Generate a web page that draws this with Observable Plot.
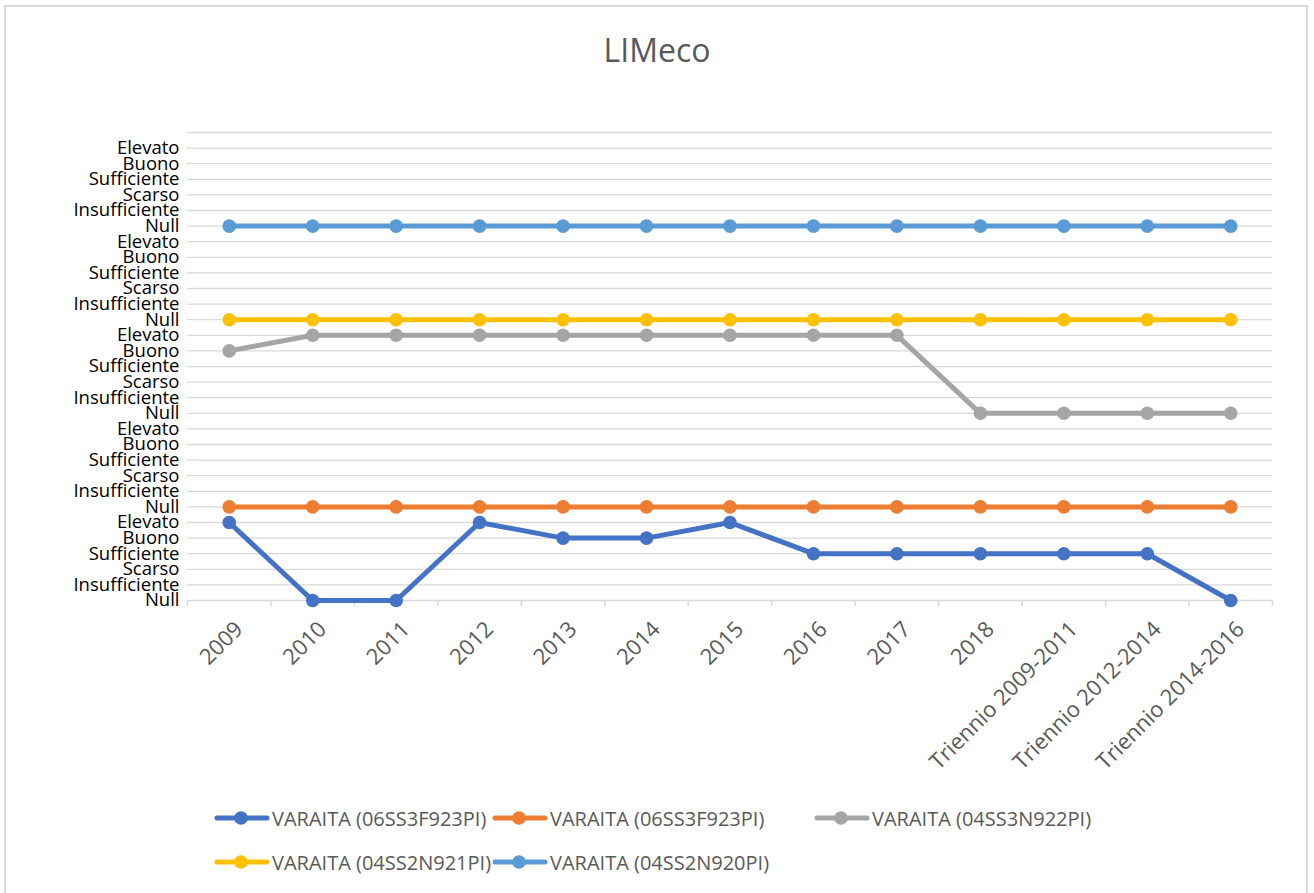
<!DOCTYPE html>
<html>
<head>
<meta charset="utf-8">
<script src="https://cdn.jsdelivr.net/npm/d3@7"></script>
<script src="https://cdn.jsdelivr.net/npm/@observablehq/plot@0.6"></script>
<style>
  html, body { margin: 0; padding: 0; background: #fff; }
  body { width: 1314px; height: 893px; position: relative; overflow: hidden; font-family: "Open Sans", sans-serif; }
  #frame { position: absolute; left: 4px; top: 5px; width: 1304px; height: 900px; border: 2px solid #D9D9D9; box-sizing: border-box; }
  #title { position: absolute; left: 0; width: 1314px; top: 28px; text-align: center; font-size: 32px; color: #595959; }
  #chart { position: absolute; left: 0; top: 0; }
  .legrow { position: absolute; left: 0; height: 30px; }
  .item { position: absolute; top: 0; height: 30px; display: flex; align-items: center; font-size: 20px; color: #595959; white-space: nowrap; }
  .item svg { display: block; margin-right: 2px; }
</style>
</head>
<body>
<div id="frame"></div>
<div id="chart"></div>
<div id="title">LIMeco</div>
<div id="legend"></div>
<script>
// ---- data ----
const categories = ["2009","2010","2011","2012","2013","2014","2015","2016","2017","2018","Triennio 2009-2011","Triennio 2012-2014","Triennio 2014-2016"];
const levels = ["Null","Insufficiente","Scarso","Sufficiente","Buono","Elevato"];
const seriesNames = ["VARAITA (06SS3F923PI)","VARAITA (06SS3F923PI)","VARAITA (04SS3N922PI)","VARAITA (04SS2N921PI)","VARAITA (04SS2N920PI)"];
const seriesColors = ["#4472C4","#ED7D31","#A5A5A5","#FFC000","#5B9BD5"];
// class index (0 = Null ... 5 = Elevato) per category
const s1 = [5,0,0,5,4,4,5,3,3,3,3,3,0];
const s2 = [0,0,0,0,0,0,0,0,0,0,0,0,0];
const s3 = [4,5,5,5,5,5,5,5,5,0,0,0,0];
const s4 = [0,0,0,0,0,0,0,0,0,0,0,0,0];
const s5 = [0,0,0,0,0,0,0,0,0,0,0,0,0];
const seriesValues = [s1,s2,s3,s4,s5];

// each series occupies its own band of 6 classes on the axis
const rows = [];
seriesValues.forEach((vals, s) => vals.forEach((v, i) => rows.push({series: s, cat: i, value: v, y: v + s * levels.length})));

const nLevels = levels.length * seriesValues.length; // 30
const yTicks = d3.range(nLevels);
const yGrid = d3.range(nLevels + 1);
const xIdx = d3.range(categories.length);
const xBounds = d3.range(categories.length + 1).map(i => i - 0.5);

const plot = Plot.plot({
  width: 1314,
  height: 790,
  marginLeft: 187,
  marginRight: 42,
  marginTop: 132,
  marginBottom: 190,
  style: {fontFamily: "'Open Sans', sans-serif", background: "transparent", overflow: "visible"},
  x: {type: "linear", domain: [-0.5, categories.length - 0.5]},
  y: {type: "linear", domain: [0, nLevels]},
  marks: [
    Plot.gridY(yGrid, {stroke: "#D9D9D9", strokeOpacity: 1, strokeWidth: 1.3}),
    Plot.axisX(xBounds, {tickSize: 6, tickFormat: null, text: null, stroke: "#D9D9D9", strokeWidth: 1.5, label: null}),
    Plot.axisX(xIdx, {tickSize: 0, tickPadding: 25, dx: 10, tickRotate: -45, tickFormat: i => categories[i], fontSize: 22, fill: "#595959", label: null}),
    Plot.axisY(yTicks, {tickSize: 0, tickPadding: 8, tickFormat: i => levels[i % levels.length], fontSize: 18.5, fill: "#000", label: null}),
    ...seriesValues.map((_, s) => Plot.line(rows.filter(r => r.series === s), {x: "cat", y: "y", stroke: seriesColors[s], strokeWidth: 5, strokeLinecap: "round", strokeLinejoin: "round"})),
    ...seriesValues.map((_, s) => Plot.dot(rows.filter(r => r.series === s), {x: "cat", y: "y", r: 6.8, fill: seriesColors[s], stroke: "none"}))
  ]
});
document.getElementById("chart").appendChild(plot);

// legend
const legend = document.getElementById("legend");
const legendRows = [[0,1,2],[3,4]];
const rowTops = [803, 847];
const itemLefts = [213, 491, 813];
legendRows.forEach((r, ri) => {
  const row = document.createElement("div");
  row.className = "legrow";
  row.style.top = rowTops[ri] + "px";
  r.forEach((s, k) => {
    const it = document.createElement("div");
    it.className = "item";
    it.style.left = itemLefts[k] + "px";
    it.innerHTML = `<svg width="57" height="16"><line x1="4" y1="8" x2="54" y2="8" stroke="${seriesColors[s]}" stroke-width="5" stroke-linecap="round"/><circle cx="28" cy="8" r="6.8" fill="${seriesColors[s]}"/></svg><span>${seriesNames[s]}</span>`;
    row.appendChild(it);
  });
  legend.appendChild(row);
});
</script>
</body>
</html>
